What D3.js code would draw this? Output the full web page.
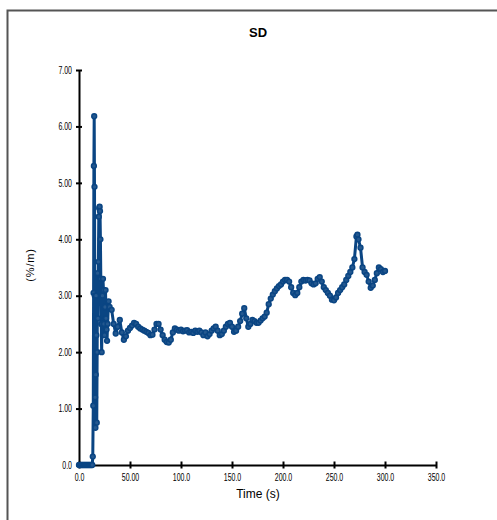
<!DOCTYPE html>
<html>
<head>
<meta charset="utf-8">
<script src="https://cdn.jsdelivr.net/npm/d3@7/dist/d3.min.js"></script>
<style>
  html, body { margin: 0; padding: 0; background: #fff; }
  svg { display: block; }
  text { font-family: "Liberation Sans", Arial, sans-serif; fill: #000; }
</style>
</head>
<body>
<svg id="chart" width="497" height="520"></svg>
<script>
// Standard deviation of the signal over time
const times = [
  0, 1, 2, 3, 4, 5, 6, 7, 8, 9, 10, 11, 12, 13,
  13.5, 14.0, 14.3, 14.6, 14.9, 15.2, 15.5, 15.8, 16.1, 16.4, 16.7, 17.0, 17.4, 17.8,
  18.2, 18.6, 19.0, 19.4, 19.8, 20.2, 20.6, 21.0, 21.4, 21.8, 22.2, 22.6, 23.0, 23.5,
  24.0, 24.5, 25.0, 25.5, 26.0, 26.5, 27.0, 27.5, 28.0, 29.0,
  30, 32, 34, 36, 38, 40, 42, 44, 46, 48, 50, 52, 54, 56, 58, 60, 62, 64, 66, 68,
  70, 72, 74, 76, 78, 80, 82, 84, 86, 88, 90, 92, 94, 96, 98, 100, 102, 104, 106, 108,
  110, 112, 114, 116, 118, 120, 122, 124, 126, 128, 130, 132, 134, 136, 138, 140, 142, 144, 146, 148,
  150, 152, 154, 156, 158, 160, 162, 164, 166, 168, 170, 172, 174, 176, 178, 180, 182, 184, 186, 188,
  190, 192, 194, 196, 198, 200, 202, 204, 206, 208, 210, 212, 214, 216, 218, 220, 222, 224, 226, 228,
  230, 232, 234, 236, 238, 240, 242, 244, 246, 248, 250, 252, 254, 256, 258, 260, 262, 264, 266, 268,
  270, 272, 273, 274, 276, 278, 280, 282, 284, 286, 288, 290, 292, 294, 296, 298, 300
];
const sdValues = [
  0, 0, 0, 0, 0, 0, 0, 0, 0, 0, 0, 0, 0, 0,
  0.15, 1.05, 3.05, 5.3, 6.18, 4.93, 3.0, 1.2, 0.66, 1.6, 3.0, 2.3, 0.75, 2.0,
  3.4, 2.6, 3.6, 4.4, 4.55, 4.58, 4.5, 4.0, 3.3, 2.5, 2.0, 2.5, 3.0, 3.3,
  3.1, 2.5, 2.3, 2.8, 3.1, 2.6, 2.4, 2.2, 2.5, 2.9,
  2.8, 2.75, 2.5, 2.33, 2.45, 2.57, 2.35, 2.22, 2.28, 2.38, 2.43, 2.47, 2.52, 2.5, 2.45, 2.42, 2.4, 2.38, 2.36, 2.34,
  2.3, 2.31, 2.4, 2.5, 2.5, 2.4, 2.3, 2.22, 2.18, 2.17, 2.22, 2.35, 2.42, 2.4, 2.38, 2.4, 2.37, 2.38, 2.39, 2.35,
  2.36, 2.34, 2.38, 2.36, 2.38, 2.35, 2.3, 2.35, 2.28, 2.32, 2.38, 2.42, 2.45, 2.38, 2.3, 2.32, 2.38, 2.45, 2.5, 2.52,
  2.45, 2.36, 2.38, 2.45, 2.55, 2.68, 2.78, 2.6, 2.45, 2.5, 2.57, 2.55, 2.52, 2.52, 2.56, 2.6, 2.63, 2.7, 2.85, 2.95,
  3.02, 3.08, 3.13, 3.17, 3.2, 3.25, 3.28, 3.28, 3.25, 3.15, 3.05, 3.01, 3.05, 3.15, 3.25, 3.28, 3.27, 3.28, 3.27, 3.22,
  3.2, 3.22, 3.3, 3.33, 3.25, 3.15, 3.1, 3.05, 3.0, 2.93, 2.92, 2.97, 3.05, 3.1, 3.15, 3.2, 3.28, 3.35, 3.42, 3.5,
  3.65, 4.05, 4.08, 4.0, 3.85, 3.5, 3.42, 3.37, 3.25, 3.14, 3.18, 3.28, 3.4, 3.5, 3.47, 3.42, 3.44
];
const xTickValues = [0, 50, 100, 150, 200, 250, 300, 350];
const xTickLabels = ["0.0", "50.00", "100.0", "150.0", "200.0", "250.0", "300.0", "350.0"];
const yTickValues = [0, 1, 2, 3, 4, 5, 6, 7];
const yTickLabels = ["0.0", "1.00", "2.00", "3.00", "4.00", "5.00", "6.00", "7.00"];

const points = times.map((t, i) => ({ t, v: sdValues[i] }));

const svg = d3.select("#chart");
const lineColor = "#0a4583";
const squeeze = 0.7; // narrow tick-label glyphs

// outer frame (open on the right and bottom)
svg.append("path")
  .attr("d", "M7.5,520 L7.5,10.5 L497,10.5")
  .attr("fill", "none")
  .attr("stroke", "#555")
  .attr("stroke-width", 2);

const x = d3.scaleLinear().domain([0, 350]).range([79, 436]);
const y = d3.scaleLinear().domain([0, 7]).range([465, 70]);

// title
svg.append("text")
  .attr("x", 258).attr("y", 37)
  .attr("text-anchor", "middle")
  .style("font-size", "13px")
  .style("font-weight", "bold")
  .text("SD");

// axes
const xAxis = d3.axisBottom(x)
  .tickValues(xTickValues)
  .tickFormat((d, i) => xTickLabels[i])
  .tickSizeInner(3.5).tickSizeOuter(0).tickPadding(6);
const yAxis = d3.axisLeft(y)
  .tickValues(yTickValues)
  .tickFormat((d, i) => yTickLabels[i])
  .tickSizeInner(3).tickSizeOuter(0).tickPadding(6);

const gx = svg.append("g").attr("transform", `translate(0,${y(0)})`).call(xAxis);
const gy = svg.append("g").attr("transform", `translate(${x(0)},0)`).call(yAxis);

[gx, gy].forEach(g => {
  g.select(".domain").attr("stroke", "#000").attr("stroke-width", 2);
  g.selectAll(".tick line").attr("stroke", "#000").attr("stroke-width", 2);
  g.selectAll(".tick text")
    .style("font-size", "10px")
    .style("font-family", "'Liberation Sans', Arial, sans-serif")
    .attr("fill", "#000");
});
// ticks cross the axis line
gx.selectAll(".tick line").attr("y1", -3.5).attr("y2", 3.5);
gy.selectAll(".tick line").attr("x1", -3).attr("x2", 3);
gx.selectAll(".tick text")
  .attr("transform", `scale(${squeeze},1)`)
  .attr("y", 9);
gy.selectAll(".tick text")
  .attr("transform", `scale(${squeeze},1)`)
  .attr("x", -7 / squeeze);

// axis titles
svg.append("text")
  .attr("x", 258).attr("y", 498)
  .attr("text-anchor", "middle")
  .style("font-size", "12px")
  .text("Time (s)");

svg.append("text")
  .attr("transform", "translate(34,265) rotate(-90)")
  .attr("text-anchor", "middle")
  .style("font-size", "11px")
  .style("letter-spacing", "0.8px")
  .text("(%/m)");

// data line with point markers
const line = d3.line().x(d => x(d.t)).y(d => y(d.v));
svg.append("path")
  .datum(points)
  .attr("d", line)
  .attr("fill", "none")
  .attr("stroke", lineColor)
  .attr("stroke-width", 3)
  .attr("stroke-linejoin", "round");

svg.append("g")
  .selectAll("circle")
  .data(points)
  .join("circle")
  .attr("cx", d => x(d.t))
  .attr("cy", d => y(d.v))
  .attr("r", 2.4)
  .attr("fill", "#24588f")
  .attr("stroke", lineColor)
  .attr("stroke-width", 1.5);
</script>
</body>
</html>
